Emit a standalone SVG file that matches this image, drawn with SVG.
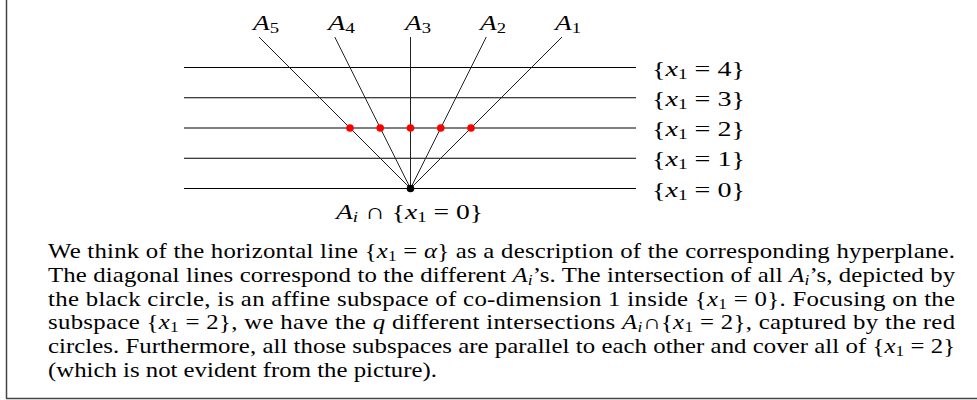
<svg xmlns="http://www.w3.org/2000/svg" width="977" height="400" viewBox="0 0 977 400">
<style>
.t{font-family:"Liberation Serif","Times New Roman",serif;fill:#000}
.it{font-style:italic}
.h{stroke:#000;stroke-width:1;fill:none}
.d{stroke:#222;stroke-width:1;fill:none}
.red{fill:#ff0000}
</style>
<rect width="977" height="400" fill="#fff"/>
<g id="frame" fill="none" stroke="#444" stroke-width="1.5">
<line x1="6.5" y1="0" x2="6.5" y2="398.5"/>
<line x1="6" y1="398.5" x2="977" y2="398.5"/>
</g>
<g id="hyperplanes">
<line class="h" x1="184" y1="67.5" x2="636" y2="67.5"/>
<line class="h" x1="184" y1="97.75" x2="636" y2="97.75"/>
<line class="h" x1="184" y1="128" x2="636" y2="128"/>
<line class="h" x1="184" y1="158.25" x2="636" y2="158.25"/>
<line class="h" x1="184" y1="188.5" x2="636" y2="188.5"/>
</g>
<g id="diagonals">
<line class="d" x1="410.5" y1="188.5" x2="259" y2="37"/>
<line class="d" x1="410.5" y1="188.5" x2="334.75" y2="37"/>
<line class="d" x1="410.5" y1="188.5" x2="410.5" y2="37"/>
<line class="d" x1="410.5" y1="188.5" x2="486.25" y2="37"/>
<line class="d" x1="410.5" y1="188.5" x2="562" y2="37"/>
</g>
<g id="points">
<circle class="red" cx="350" cy="128" r="3.8"/>
<circle class="red" cx="380.25" cy="128" r="3.8"/>
<circle class="red" cx="410.5" cy="128" r="3.8"/>
<circle class="red" cx="440.75" cy="128" r="3.8"/>
<circle class="red" cx="471" cy="128" r="3.8"/>
<circle cx="410.5" cy="188.5" r="3.8" fill="#000"/>
</g>
<g id="labels-A" class="t" font-size="22">
<text x="253" y="30" textLength="26" lengthAdjust="spacingAndGlyphs"><tspan class="it">A</tspan><tspan font-size="15" dy="3">5</tspan></text>
<text x="328" y="30" textLength="27" lengthAdjust="spacingAndGlyphs"><tspan class="it">A</tspan><tspan font-size="15" dy="3">4</tspan></text>
<text x="405" y="30" textLength="26" lengthAdjust="spacingAndGlyphs"><tspan class="it">A</tspan><tspan font-size="15" dy="3">3</tspan></text>
<text x="480" y="30" textLength="26" lengthAdjust="spacingAndGlyphs"><tspan class="it">A</tspan><tspan font-size="15" dy="3">2</tspan></text>
<text x="555" y="30" textLength="26" lengthAdjust="spacingAndGlyphs"><tspan class="it">A</tspan><tspan font-size="15" dy="3">1</tspan></text>
</g>
<g id="labels-x" class="t" font-size="22">
<text x="652" y="75.5" textLength="93" lengthAdjust="spacingAndGlyphs">{<tspan class="it">x</tspan><tspan font-size="15" dy="3">1</tspan><tspan dy="-3"> = 4}</tspan></text>
<text x="652" y="105.75" textLength="93" lengthAdjust="spacingAndGlyphs">{<tspan class="it">x</tspan><tspan font-size="15" dy="3">1</tspan><tspan dy="-3"> = 3}</tspan></text>
<text x="652" y="136" textLength="93" lengthAdjust="spacingAndGlyphs">{<tspan class="it">x</tspan><tspan font-size="15" dy="3">1</tspan><tspan dy="-3"> = 2}</tspan></text>
<text x="652" y="166.25" textLength="93" lengthAdjust="spacingAndGlyphs">{<tspan class="it">x</tspan><tspan font-size="15" dy="3">1</tspan><tspan dy="-3"> = 1}</tspan></text>
<text x="652" y="196.5" textLength="93" lengthAdjust="spacingAndGlyphs">{<tspan class="it">x</tspan><tspan font-size="15" dy="3">1</tspan><tspan dy="-3"> = 0}</tspan></text>
<text x="336" y="218.5" textLength="147" lengthAdjust="spacingAndGlyphs"><tspan class="it">A</tspan><tspan class="it" font-size="15" dy="3">i</tspan><tspan dy="-3"> ∩ {</tspan><tspan class="it">x</tspan><tspan font-size="15" dy="3">1</tspan><tspan dy="-3"> = 0}</tspan></text>
</g>
<g id="caption" class="t" font-size="20" transform="translate(48,0) scale(1.24,1)">
<text x="0" y="258" textLength="731.5" lengthAdjust="spacing">We think of the horizontal line {<tspan class="it">x</tspan><tspan font-size="14" dy="3">1</tspan><tspan dy="-3"> = </tspan><tspan class="it">α</tspan>} as a description of the corresponding hyperplane.</text>
<text x="0" y="281.8" textLength="731.5" lengthAdjust="spacing">The diagonal lines correspond to the different <tspan class="it">A</tspan><tspan class="it" font-size="14" dy="3">i</tspan><tspan dy="-3">’s. The intersection of all </tspan><tspan class="it">A</tspan><tspan class="it" font-size="14" dy="3">i</tspan><tspan dy="-3">’s, depicted by</tspan></text>
<text x="0" y="305.6" textLength="731.5" lengthAdjust="spacing">the black circle, is an affine subspace of co-dimension 1 inside {<tspan class="it">x</tspan><tspan font-size="14" dy="3">1</tspan><tspan dy="-3"> = 0}. Focusing on the</tspan></text>
<text x="0" y="329.4" textLength="731.5" lengthAdjust="spacing">subspace {<tspan class="it">x</tspan><tspan font-size="14" dy="3">1</tspan><tspan dy="-3"> = 2}, we have the </tspan><tspan class="it">q</tspan> different intersections <tspan class="it">A</tspan><tspan class="it" font-size="14" dy="3">i</tspan><tspan dy="-3">∩{</tspan><tspan class="it">x</tspan><tspan font-size="14" dy="3">1</tspan><tspan dy="-3"> = 2}, captured by the red</tspan></text>
<text x="0" y="353.2" textLength="731.5" lengthAdjust="spacing">circles. Furthermore, all those subspaces are parallel to each other and cover all of {<tspan class="it">x</tspan><tspan font-size="14" dy="3">1</tspan><tspan dy="-3"> = 2}</tspan></text>
<text x="0" y="377">(which is not evident from the picture).</text>
</g>
</svg>
